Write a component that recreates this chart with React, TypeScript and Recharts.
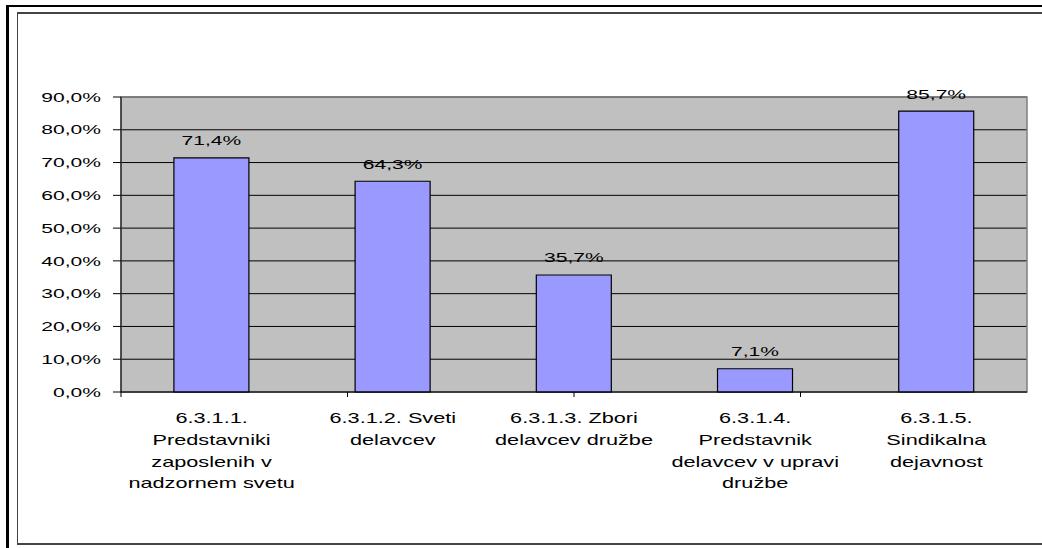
import React from 'react';
import {
  BarChart,
  Bar,
  XAxis,
  YAxis,
  CartesianGrid,
  ReferenceArea,
  LabelList,
} from 'recharts';

// Category codes and their wrapped caption lines
const categoryCodes = ['6.3.1.1.', '6.3.1.2.', '6.3.1.3.', '6.3.1.4.', '6.3.1.5.'];
const categoryLines: string[][] = [
  ['6.3.1.1.', 'Predstavniki', 'zaposlenih v', 'nadzornem svetu'],
  ['6.3.1.2. Sveti', 'delavcev'],
  ['6.3.1.3. Zbori', 'delavcev družbe'],
  ['6.3.1.4.', 'Predstavnik', 'delavcev v upravi', 'družbe'],
  ['6.3.1.5.', 'Sindikalna', 'dejavnost'],
];

// Share of answers, in percent
const shares = [71.4, 64.3, 35.7, 7.1, 85.7];

// Value axis ticks and category boundary ticks
const yTicks = [0, 10, 20, 30, 40, 50, 60, 70, 80, 90];
const edgeTicks = [0, 1, 2, 3, 4, 5];

const data = categoryCodes.map((code, i) => ({ code, share: shares[i] }));

const FONT = '"Liberation Sans", Arial, Helvetica, sans-serif';
const WIDE = 1.62; // horizontal stretch of the small labels
const WIDE_X = 1.55;

const fmt = (v: number) => `${v.toFixed(1).replace('.', ',')}%`;

const YTick = (props: any) => {
  const { x, y, payload } = props;
  return (
    <g transform={`translate(${x},${y}) scale(${WIDE},1)`}>
      <text x={0} y={0} dy="0.36em" textAnchor="end" fontFamily={FONT} fontSize={13} fill="#000">
        {fmt(payload.value)}
      </text>
    </g>
  );
};

const XTick = (props: any) => {
  const { x, y, index, payload } = props;
  const i0 = typeof index === 'number' ? index : categoryCodes.indexOf(payload?.value);
  const lines = categoryLines[i0] || [];
  return (
    <g transform={`translate(${x},${y})`}>
      {lines.map((line, i) => (
        <g key={i} transform={`translate(0,${30 + i * 21.8}) scale(${WIDE_X},1)`}>
          <text x={0} y={0} textAnchor="middle" fontFamily={FONT} fontSize={14} fill="#000">
            {line}
          </text>
        </g>
      ))}
    </g>
  );
};

const NoLabel = () => <g />;

const ValueLabel = (props: any) => {
  const { x, y, width, value } = props;
  const cx = Number(x) + Number(width) / 2;
  return (
    <g transform={`translate(${cx},${Number(y) - 12.5}) scale(${WIDE},1)`}>
      <text x={0} y={0} textAnchor="middle" fontFamily={FONT} fontSize={13} fill="#000">
        {fmt(Number(value))}
      </text>
    </g>
  );
};

export default function App() {
  return (
    <div
      style={{
        position: 'absolute',
        left: 0,
        top: 0,
        width: 1042,
        height: 548,
        overflow: 'hidden',
        background: '#fff',
      }}
    >
      {/* outer frame */}
      <div
        style={{
          position: 'absolute',
          left: 6,
          top: 5,
          width: 1100,
          height: 600,
          borderLeft: '3px solid #000',
          borderTop: '2px solid #000',
        }}
      />
      {/* inner chart frame */}
      <div
        style={{
          position: 'absolute',
          left: 17,
          top: 12,
          width: 1100,
          height: 529,
          borderLeft: '1.5px solid #444',
          borderTop: '2px solid #444',
          borderBottom: '2px solid #444',
        }}
      />
      <div style={{ position: 'absolute', left: 0, top: 0 }}>
        <BarChart
          width={1042}
          height={548}
          data={data}
          margin={{ top: 97, right: 15, bottom: 0, left: 17 }}
          barCategoryGap="29.2%"
        >
          <CartesianGrid
            horizontal
            vertical={false}
            stroke="#000"
            fill="#C0C0C0"
            fillOpacity={1}
          />
          <ReferenceArea
            xAxisId="cat"
            y1={0}
            y2={90}
            fill="none"
            stroke="#808080"
            strokeWidth={1.5}
            ifOverflow="visible"
          />
          {/* boundary ticks between categories, sitting on the plot floor */}
          <XAxis
            xAxisId={0}
            type="number"
            domain={[0, 5]}
            ticks={edgeTicks}
            allowDataOverflow
            height={1}
            axisLine={{ stroke: '#000' }}
            tickLine={{ stroke: '#000' }}
            tickSize={5}
            tick={<NoLabel />}
          />
          <XAxis
            xAxisId="cat"
            dataKey="code"
            height={155}
            axisLine={false}
            tickLine={false}
            tickSize={0}
            tickMargin={0}
            interval={0}
            tick={<XTick />}
          />
          <YAxis
            width={104}
            domain={[0, 90]}
            ticks={yTicks}
            interval={0}
            axisLine={{ stroke: '#000' }}
            tickLine={{ stroke: '#000' }}
            tickSize={8}
            tickMargin={12}
            tick={<YTick />}
          />
          <Bar
            xAxisId="cat"
            dataKey="share"
            fill="#9999FF"
            stroke="#000"
            strokeWidth={1.2}
            isAnimationActive={false}
          >
            <LabelList dataKey="share" content={<ValueLabel />} />
          </Bar>
        </BarChart>
      </div>
    </div>
  );
}
